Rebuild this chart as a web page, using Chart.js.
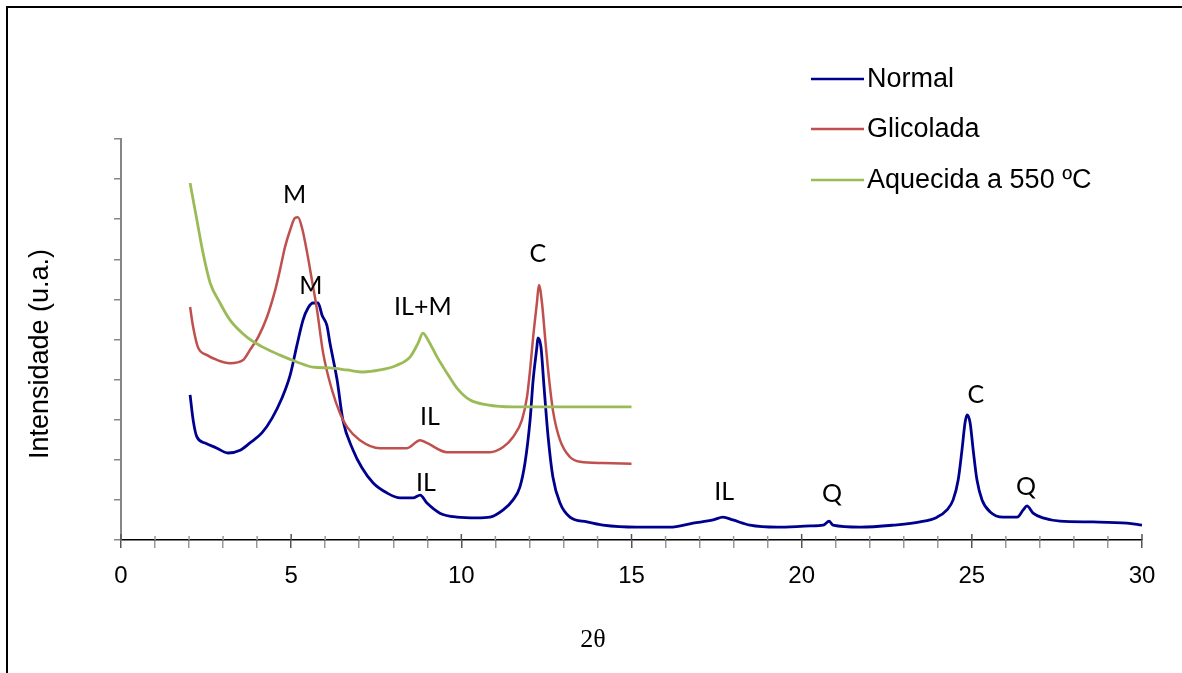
<!DOCTYPE html>
<html>
<head>
<meta charset="utf-8">
<script src="https://cdn.jsdelivr.net/npm/chart.js@4/dist/chart.umd.min.js"></script>
<style>
html,body{margin:0;padding:0;background:#fff;}
canvas{display:block;}
</style>
</head>
<body>
<canvas id="c" width="1182" height="673"></canvas>
<script>
// ---- data (2θ, intensity in arbitrary units) ----
const normalX = [2.03,2.12,2.23,2.47,2.82,3.14,3.50,3.79,4.14,4.44,4.73,4.97,5.17,5.35,5.50,5.64,5.79,5.91,6.05,6.14,6.35,6.52,6.82,7.08,7.41,7.82,8.20,8.58,8.79,8.99,9.37,9.87,10.46,10.84,11.23,11.52,11.72,11.87,12.02,12.11,12.22,12.25,12.34,12.43,12.55,12.69,12.90,13.19,13.69,14.16,15.16,16.13,16.81,17.40,17.69,17.98,18.48,19.28,20.25,20.63,20.81,20.92,21.72,22.69,23.48,23.98,24.27,24.45,24.60,24.71,24.80,24.86,24.95,25.04,25.15,25.30,25.54,25.92,26.33,26.51,26.62,26.80,27.09,27.59,28.56,29.56,30.0];
const normalY = [3.62,2.99,2.57,2.42,2.29,2.17,2.24,2.42,2.67,3.04,3.54,4.11,4.86,5.49,5.79,5.91,5.91,5.60,5.35,4.91,3.99,2.99,2.24,1.80,1.42,1.17,1.05,1.05,1.12,0.92,0.67,0.57,0.55,0.57,0.75,1.00,1.32,1.92,2.99,3.99,4.81,5.04,4.81,3.82,2.57,1.57,0.92,0.57,0.45,0.37,0.32,0.32,0.42,0.50,0.57,0.50,0.37,0.32,0.35,0.37,0.47,0.37,0.32,0.37,0.45,0.57,0.75,1.00,1.50,2.24,2.92,3.12,2.92,2.24,1.50,1.00,0.70,0.57,0.57,0.75,0.85,0.67,0.55,0.47,0.45,0.42,0.37];

const glicX = [2.03,2.12,2.26,2.53,2.82,3.20,3.59,3.79,4.03,4.29,4.53,4.67,4.82,4.97,5.11,5.20,5.32,5.47,5.61,5.76,5.94,6.20,6.44,6.64,7.02,7.61,8.40,8.79,8.99,9.58,10.55,10.84,11.23,11.52,11.78,11.93,12.02,12.11,12.22,12.28,12.37,12.46,12.55,12.69,12.90,13.19,13.49,14.16,15.0];
const glicY = [5.81,5.31,4.81,4.61,4.49,4.41,4.49,4.74,5.06,5.56,6.23,6.73,7.31,7.73,8.03,8.05,7.78,7.16,6.48,5.74,4.66,3.74,3.15,2.82,2.49,2.29,2.29,2.49,2.42,2.19,2.19,2.19,2.32,2.57,2.99,3.57,4.24,5.06,5.91,6.36,5.91,5.06,4.24,3.24,2.49,2.07,1.95,1.92,1.90];

const aqX = [2.03,2.23,2.41,2.62,2.91,3.20,3.70,4.17,4.67,5.17,5.64,6.14,6.64,7.11,7.61,8.11,8.49,8.73,8.87,9.02,9.29,9.58,9.87,10.26,10.76,11.52,12.52,13.49,15.0];
const aqY = [8.90,7.98,7.16,6.41,5.91,5.49,5.06,4.81,4.61,4.44,4.31,4.29,4.24,4.19,4.24,4.36,4.56,4.91,5.16,4.99,4.56,4.16,3.79,3.49,3.37,3.32,3.32,3.32,3.32];

const seriesNames = ["Normal","Glicolada","Aquecida a 550 ºC"];
const seriesColors = ["#00008f","#c0504d","#9bbb59"];

const xTickLabels = ["0","5","10","15","20","25","30"];

// peak annotations: text, 2θ, intensity
const annText = ["M","M","IL+M","C","IL","IL","IL","Q","C","Q"];
const annX    = [5.10,5.58,8.87,12.25,9.08,8.96,17.72,20.89,25.12,26.59];
const annY    = [8.60,6.33,5.81,7.13,3.07,1.42,1.20,1.15,3.62,1.32];

function pts(xs, ys){ return xs.map((x,i)=>({x:x, y:ys[i]})); }

const decor = {
  id: 'decor',
  afterDraw(chart){
    const ctx = chart.ctx;
    const xs = chart.scales.x, ys = chart.scales.y;
    ctx.save();
    // outer frame (left and top)
    ctx.strokeStyle = '#000'; ctx.lineWidth = 2;
    ctx.beginPath(); ctx.moveTo(7,673); ctx.lineTo(7,7); ctx.lineTo(1182,7); ctx.stroke();
    // upward part of x ticks (crossing the axis)
    xs.ticks.forEach(t=>{
      const px = xs.getPixelForValue(t.value);
      const major = t.value % 5 === 0;
      ctx.strokeStyle = major ? '#555' : '#999';
      ctx.lineWidth = 1.5;
      ctx.beginPath(); ctx.moveTo(px, xs.top); ctx.lineTo(px, xs.top - (major ? 6 : 4)); ctx.stroke();
    });
    // axis titles
    ctx.fillStyle = '#000';
    ctx.font = '26px "Liberation Serif", serif';
    ctx.textAlign = 'center'; ctx.textBaseline = 'middle';
    ctx.fillText('2θ', 593, 640);
    ctx.save();
    ctx.translate(41, 354); ctx.rotate(-Math.PI/2);
    ctx.font = '27px "Liberation Sans", Arial, sans-serif';
    ctx.fillText('Intensidade (u.a.)', 0, 0);
    ctx.restore();
    // legend
    const legY = [79,129,180];
    ctx.font = '27px "Liberation Sans", Arial, sans-serif';
    ctx.textAlign = 'left';
    seriesNames.forEach((n,i)=>{
      ctx.strokeStyle = seriesColors[i]; ctx.lineWidth = 2.5;
      ctx.beginPath(); ctx.moveTo(811, legY[i]); ctx.lineTo(864, legY[i]); ctx.stroke();
      ctx.fillStyle = '#000';
      ctx.fillText(n, 867, legY[i] + 1);
    });
    // peak annotations
    ctx.font = '25px Lato, "Open Sans", sans-serif';
    ctx.textAlign = 'center';
    annText.forEach((t,i)=>{
      ctx.fillText(t, xs.getPixelForValue(annX[i]), ys.getPixelForValue(annY[i]));
    });
    ctx.restore();
  }
};

const ds = (name, xs, ys, color, w) => ({
  label: name, data: pts(xs, ys), borderColor: color, backgroundColor: color,
  borderWidth: w, pointRadius: 0, fill: false, cubicInterpolationMode: 'monotone'
});

new Chart(document.getElementById('c'), {
  type: 'line',
  data: {
    datasets: [
      ds(seriesNames[2], aqX, aqY, seriesColors[2], 2.8),
      ds(seriesNames[1], glicX, glicY, seriesColors[1], 2.5),
      ds(seriesNames[0], normalX, normalY, seriesColors[0], 2.8)
    ]
  },
  options: {
    responsive: false,
    animation: false,
    events: [],
    layout: { padding: { left: 0, top: 139, right: 40, bottom: 0 } },
    plugins: { legend: { display: false }, tooltip: { enabled: false } },
    scales: {
      x: {
        type: 'linear', min: 0, max: 30,
        afterFit(s){ s.height = 133; },
        ticks: {
          stepSize: 1, autoSkip: false, maxRotation: 0, padding: 14,
          color: '#000', font: { family: '"Liberation Sans", Arial, sans-serif', size: 24 },
          callback: (v) => (v % 5 === 0 ? xTickLabels[v/5] : '')
        },
        grid: {
          drawOnChartArea: false, drawTicks: true, tickLength: 8, lineWidth: 1.5,
          color: (c) => (c.tick && c.tick.value % 5 === 0 ? '#555' : '#999')
        },
        border: { color: '#000', width: 1.5 }
      },
      y: {
        min: 0, max: 10,
        afterFit(s){ s.width = 121; },
        ticks: { stepSize: 1, display: false },
        grid: { drawOnChartArea: false, drawTicks: true, tickLength: 7, color: '#868686', lineWidth: 1.5 },
        border: { color: '#868686', width: 2 }
      }
    }
  },
  plugins: [decor]
});
</script>
</body>
</html>
